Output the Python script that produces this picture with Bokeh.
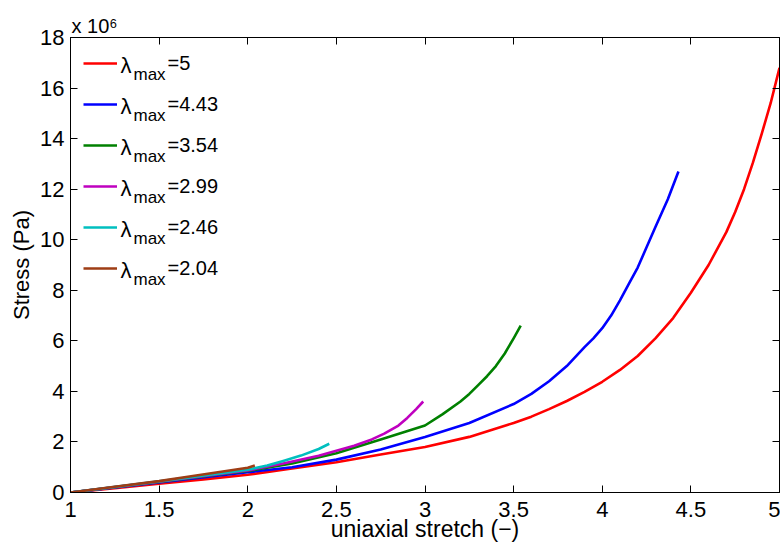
from bokeh.plotting import figure
from bokeh.models import (LinearAxis, FixedTicker, Legend, LegendItem, Label, Range1d,
                          Title, CustomLabelingPolicy)
from bokeh.embed import file_html
from bokeh.resources import INLINE

# ---------------- data (stress in units of 1e6 Pa) ----------------
red_x = [1.0, 1.25, 1.5, 1.75, 2.0, 2.25, 2.5, 2.75, 3.0, 3.25, 3.5, 3.6, 3.7, 3.8, 3.9, 4.0, 4.1, 4.2,
         4.3, 4.4, 4.5, 4.6, 4.7, 4.75, 4.8, 4.85, 4.9, 4.95, 5.0]
red_y = [0.0, 0.17, 0.35, 0.52, 0.70, 0.95, 1.20, 1.50, 1.80, 2.20, 2.75, 3.00, 3.30, 3.62, 3.98, 4.38, 4.85,
         5.40, 6.10, 6.90, 7.90, 9.00, 10.30, 11.10, 12.00, 13.05, 14.20, 15.40, 16.80]

blue_x = [1.0, 1.5, 2.0, 2.25, 2.5, 2.75, 3.0, 3.25, 3.5, 3.6, 3.7, 3.8, 3.9, 3.95, 4.0, 4.05, 4.1, 4.15,
          4.2, 4.25, 4.3, 4.37, 4.43]
blue_y = [0.0, 0.40, 0.80, 1.00, 1.30, 1.70, 2.20, 2.75, 3.50, 3.90, 4.40, 5.00, 5.75, 6.10, 6.50, 7.00,
          7.60, 8.25, 8.90, 9.70, 10.50, 11.60, 12.70]

green_x = [1.0, 1.5, 2.0, 2.25, 2.5, 2.75, 3.0, 3.1, 3.2, 3.25, 3.3, 3.35, 3.4, 3.45, 3.5, 3.54]
green_y = [0.0, 0.42, 0.85, 1.15, 1.55, 2.10, 2.65, 3.10, 3.60, 3.90, 4.25, 4.60, 5.00, 5.50, 6.10, 6.60]

magenta_x = [1.0, 1.5, 2.0, 2.2, 2.4, 2.6, 2.7, 2.77, 2.85, 2.9, 2.95, 2.99]
magenta_y = [0.0, 0.43, 0.87, 1.15, 1.45, 1.85, 2.10, 2.33, 2.65, 2.95, 3.30, 3.60]

cyan_x = [1.0, 1.5, 2.0, 2.11, 2.2, 2.3, 2.4, 2.46]
cyan_y = [0.0, 0.44, 0.90, 1.07, 1.25, 1.46, 1.72, 1.93]

brown_x = [1.0, 1.25, 1.5, 1.69, 1.85, 2.0, 2.04]
brown_y = [0.0, 0.23, 0.45, 0.65, 0.82, 0.98, 1.07]

series_names = ["5", "4.43", "3.54", "2.99", "2.46", "2.04"]
series_colors = ["#ff0000", "#0000ff", "#008000", "#bf00bf", "#00bfbf", "#9e3d15"]
series_data = [(red_x, red_y), (blue_x, blue_y), (green_x, green_y),
               (magenta_x, magenta_y), (cyan_x, cyan_y), (brown_x, brown_y)]

x_ticks = [1, 1.5, 2, 2.5, 3, 3.5, 4, 4.5, 5]
x_tick_labels = ["1", "1.5", "2", "2.5", "3", "3.5", "4", "4.5", "5"]
y_ticks = [0, 2, 4, 6, 8, 10, 12, 14, 16, 18]
y_tick_labels = ["0", "2", "4", "6", "8", "10", "12", "14", "16", "18"]

FONT = "Liberation Sans"

p = figure(width=780, height=548, output_backend="svg", toolbar_location=None,
           x_range=Range1d(1, 5), y_range=Range1d(0, 18),
           min_border_left=70, min_border_right=1, min_border_top=37, min_border_bottom=56)
p.xgrid.visible = False
p.ygrid.visible = False
p.outline_line_color = "black"
p.outline_line_width = 1
p.background_fill_color = "white"
p.border_fill_color = "white"

renderers = []
for (xs, ys), c in zip(series_data, series_colors):
    r = p.line(xs, ys, line_color=c, line_width=2.6, line_join="round")
    renderers.append(r)

def style_axis(ax, ticks, labels, show_labels=True):
    ax.ticker = FixedTicker(ticks=ticks)
    ax.major_label_overrides = {t: l for t, l in zip(ticks, labels)}
    ax.major_tick_in = 7
    ax.major_tick_out = 0
    ax.minor_tick_line_color = None
    ax.axis_line_color = "black"
    ax.major_tick_line_color = "black"
    ax.major_label_text_font = FONT
    ax.major_label_text_color = "black"
    ax.major_label_text_font_size = "22px"
    if not show_labels:
        ax.major_label_policy = CustomLabelingPolicy(code="return new Set()")
        ax.major_label_text_font_size = "0px"
        ax.major_label_standoff = 0

xa = p.xaxis[0]
style_axis(xa, x_ticks, x_tick_labels)
xa.major_label_standoff = 9
xa.axis_label = "uniaxial stretch (\u2212)"
xa.axis_label_text_font = FONT
xa.axis_label_text_font_size = "23px"
xa.axis_label_text_font_style = "normal"
xa.axis_label_text_color = "black"
xa.axis_label_standoff = -4

ya = p.yaxis[0]
style_axis(ya, y_ticks, y_tick_labels)
ya.major_label_standoff = 6
ya.axis_label = "Stress (Pa)"
ya.axis_label_text_font = FONT
ya.axis_label_text_font_size = "22px"
ya.axis_label_text_font_style = "normal"
ya.axis_label_text_color = "black"
ya.axis_label_standoff = 3

top_ax = LinearAxis()
style_axis(top_ax, x_ticks, x_tick_labels, show_labels=False)
p.add_layout(top_ax, "above")
right_ax = LinearAxis()
style_axis(right_ax, y_ticks, y_tick_labels, show_labels=False)
p.add_layout(right_ax, "right")

# exponent title
p.add_layout(Title(text="x 10\u2076", align="left", offset=1, standoff=1,
                   text_font=FONT, text_font_size="20px", text_font_style="normal",
                   text_color="black"), "above")

# legend: sample lines via Legend, texts via labels (lambda with subscript)
items = [LegendItem(label="", renderers=[r]) for r in renderers]
legend = Legend(items=items, location="top_left", margin=12, padding=1,
                glyph_width=34, glyph_height=26, label_height=26, label_width=0,
                spacing=15, label_text_font=FONT, label_text_font_size="20px",
                label_standoff=0,
                background_fill_alpha=0, border_line_alpha=0)
p.add_layout(legend)

FRAME_H = 455
for i, name in enumerate(series_names):
    row_y = FRAME_H - (26 + 41 * i)  # frame-relative, upward
    p.add_layout(Label(x=50, y=row_y - 2, x_units="screen", y_units="screen", text="\u03bb",
                       text_font=FONT, text_font_size="22px", text_baseline="alphabetic",
                       text_color="black"))
    p.add_layout(Label(x=63, y=row_y - 10.5, x_units="screen", y_units="screen", text="max",
                       text_font=FONT, text_font_size="17px", text_baseline="alphabetic",
                       text_color="black"))
    p.add_layout(Label(x=97, y=row_y + 0.5, x_units="screen", y_units="screen", text="=" + name,
                       text_font=FONT, text_font_size="20px", text_baseline="alphabetic",
                       text_color="black"))

open("out.html", "w").write(file_html(p, INLINE))
